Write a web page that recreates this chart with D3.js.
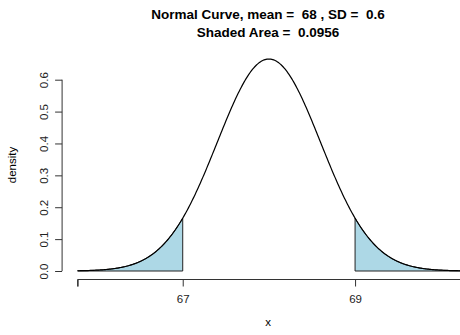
<!DOCTYPE html>
<html>
<head>
<meta charset="utf-8">
<script src="https://cdn.jsdelivr.net/npm/d3@7"></script>
<style>
  body { margin: 0; background: #fff; }
  svg { display: block; font-family: "Liberation Sans", Arial, Helvetica, sans-serif; }
  text { white-space: pre; }
</style>
</head>
<body>
<div class="chart"></div>
<script>
// chart parameters read from the title
var meanValue = [68];
var sdValue = [0.6];
var shadedArea = ["0.0956"];
// shading limits: lower tail ends at 67, upper tail starts at 69
var shadeLimits = [67, 69];
// curve drawn from about mean - 3.7 SD to mean + 3.7 SD
var curveRange = [65.78, 70.22];
var xTicks = [65.78, 67, 69, 70.22];
var xTickLabels = ["", "67", "69", ""];
var yTicks = [0, 0.1, 0.2, 0.3, 0.4, 0.5, 0.6];

var W = 460, H = 335;
var mu = meanValue[0], sd = sdValue[0];

function dnorm(x) {
    var z = (x - mu) / sd;
    return Math.exp(-0.5 * z * z) / (sd * Math.sqrt(2 * Math.PI));
}

// sample the curve
var n = 400;
var curve = d3.range(n + 1).map(function(i) {
    var x = curveRange[0] + (curveRange[1] - curveRange[0]) * i / n;
    return {x: x, y: dnorm(x)};
});
var peak = dnorm(mu);

// plot region (R style, 4% padding)
var x = d3.scaleLinear().domain([65.6, 70.4]).range([62.1, 475.7]);
var y = d3.scaleLinear().domain([0, peak]).range([271, 59]);
var plotBottom = 279.5;

var svg = d3.select(".chart").append("svg")
    .attr("width", W)
    .attr("height", H);

// shaded tails
function tail(a, b) {
    var pts = curve.filter(function(d) { return d.x >= a && d.x <= b; });
    pts.unshift({x: a, y: dnorm(a)});
    pts.push({x: b, y: dnorm(b)});
    var poly = [[x(a), y(0)]].concat(pts.map(function(d) { return [x(d.x), y(d.y)]; }));
    poly.push([x(b), y(0)]);
    return poly;
}
var tails = [
    tail(curveRange[0], shadeLimits[0]),
    tail(shadeLimits[1], curveRange[1])
];
svg.selectAll("path.tail")
    .data(tails)
    .enter().append("path")
    .attr("class", "tail")
    .attr("d", function(d) { return "M" + d.join("L") + "Z"; })
    .attr("fill", "#add8e6")
    .attr("stroke", "#222")
    .attr("stroke-width", 1);

// the curve
var line = d3.line()
    .x(function(d) { return x(d.x); })
    .y(function(d) { return y(d.y); });
svg.append("path")
    .datum(curve)
    .attr("d", line)
    .attr("fill", "none")
    .attr("stroke", "#000")
    .attr("stroke-width", 1.2);

// x axis
var xAxis = d3.axisBottom(x)
    .tickValues(xTicks)
    .tickSize(7)
    .tickPadding(8)
    .tickFormat(function(d, i) { return xTickLabels[i]; });
var gx = svg.append("g")
    .attr("transform", "translate(0," + plotBottom + ")")
    .call(xAxis);
gx.select(".domain")
    .attr("d", "M" + x(xTicks[0]) + ",7V0H" + W);
gx.selectAll("line, path").attr("stroke", "#333");
gx.selectAll("text")
    .attr("fill", "#222")
    .style("font-size", "11.5px");

// y axis
var yAxis = d3.axisLeft(y)
    .tickValues(yTicks)
    .tickSize(7)
    .tickPadding(5)
    .tickFormat(d3.format(".1f"));
var gy = svg.append("g")
    .attr("transform", "translate(62.1,0)")
    .call(yAxis);
gy.select(".domain").attr("d", "M0," + y(0) + "V" + y(0.6));
gy.selectAll("line, path").attr("stroke", "#333");
gy.selectAll("text")
    .attr("fill", "#222")
    .style("font-size", "11.5px")
    .attr("text-anchor", "middle")
    .attr("dy", null)
    .attr("x", 0)
    .attr("y", 0)
    .attr("transform", "translate(-14,0) rotate(-90)");

// axis titles
svg.append("text")
    .attr("x", 268)
    .attr("y", 326)
    .attr("text-anchor", "middle")
    .style("font-size", "11.5px")
    .text("x");
svg.append("text")
    .attr("transform", "translate(16,165) rotate(-90)")
    .attr("text-anchor", "middle")
    .style("font-size", "11.5px")
    .text("density");

// title
svg.append("text")
    .attr("x", 268)
    .attr("y", 19)
    .attr("text-anchor", "middle")
    .style("font-size", "13.5px")
    .style("font-weight", "bold")
    .text("Normal Curve, mean =  " + mu + " , SD =  " + sd);
svg.append("text")
    .attr("x", 268)
    .attr("y", 36.5)
    .attr("text-anchor", "middle")
    .style("font-size", "13.5px")
    .style("font-weight", "bold")
    .text("Shaded Area =  " + shadedArea[0]);
</script>
</body>
</html>
